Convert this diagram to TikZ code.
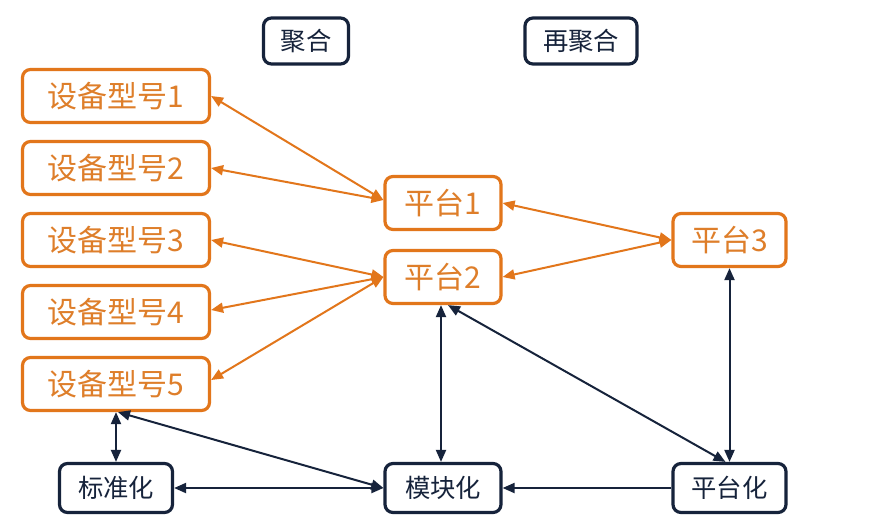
\documentclass[tikz,border=0pt]{standalone}
\usepackage{fontspec}
\setmainfont{Noto Sans CJK SC}
\usetikzlibrary{arrows.meta}
\definecolor{org}{HTML}{E2761B}
\definecolor{orgtxt}{HTML}{DE7E2A}
\definecolor{navy}{HTML}{16233B}
\tikzset{
  obox/.style={draw=org, line width=2.4pt, rounded corners=6pt, fill=white,
    text=orgtxt, font=\fontsize{22.5}{24}\selectfont, inner sep=0pt,
    minimum height=39.75pt},
  nbox/.style={draw=navy, line width=2.4pt, rounded corners=6pt, fill=white,
    text=navy, font=\fontsize{19}{22}\selectfont, inner sep=0pt},
  oarr/.style={draw=org, line width=1.5pt, {Triangle[length=9pt,width=7.5pt]}-{Triangle[length=9pt,width=7.5pt]}},
  narr/.style={draw=navy, line width=1.5pt, {Triangle[length=9pt,width=7.5pt]}-{Triangle[length=9pt,width=7.5pt]}},
  narrone/.style={draw=navy, line width=1.5pt, -{Triangle[length=9pt,width=7.5pt]}}
}
\begin{document}
\begin{tikzpicture}[x=0.75pt,y=-0.75pt]
\useasboundingbox[fill=white] (0,0) rectangle (880,526);
% header
\node[nbox, minimum width=63.75pt, minimum height=34.5pt] (jh) at (306,41) {聚合};
\node[nbox, minimum width=84pt, minimum height=34.5pt] (zjh) at (581,41) {再聚合};
% devices
\node[obox, minimum width=140.25pt] (d1) at (116,96) {设备型号1};
\node[obox, minimum width=140.25pt] (d2) at (116,168) {设备型号2};
\node[obox, minimum width=140.25pt] (d3) at (116,240) {设备型号3};
\node[obox, minimum width=140.25pt] (d4) at (116,312) {设备型号4};
\node[obox, minimum width=140.25pt] (d5) at (116,384) {设备型号5};
% platforms
\node[obox, minimum width=87pt] (p1) at (443,203) {平台1};
\node[obox, minimum width=87pt] (p2) at (443,277) {平台2};
\node[obox, minimum width=84.75pt] (p3) at (729.5,240) {平台3};
% bottom
\node[nbox, minimum width=84.75pt, minimum height=36.75pt] (bz) at (116,488) {标准化};
\node[nbox, minimum width=87pt, minimum height=36.75pt] (mk) at (443,488) {模块化};
\node[nbox, minimum width=84.75pt, minimum height=36.75pt] (pt) at (729.5,488) {平台化};
% orange connectors
\draw[oarr] (d1.east) -- ([yshift=2.25pt]p1.west);
\draw[oarr] (d2.east) -- ([yshift=2.25pt]p1.west);
\draw[oarr] (d3.east) -- (p2.west);
\draw[oarr] ([yshift=1.5pt]d4.east) -- (p2.west);
\draw[oarr] ([yshift=3pt]d5.east) -- (p2.west);
\draw[oarr] (p1.east) -- (p3.west);
\draw[oarr] (p2.east) -- (p3.west);
% navy connectors
\draw[narr] ([xshift=-1.5pt]p2.south) -- ([xshift=-1.5pt]mk.north);
\draw[narr] ([xshift=3.75pt]p2.south) -- ([xshift=-3pt]pt.north);
\draw[narr] (p3.south) -- (pt.north);
\draw[narr] (d5.south) -- (bz.north);
\draw[narr] ([xshift=1.5pt]d5.south) -- (mk.west);
\draw[narr] (bz.east) -- (mk.west);
\draw[narrone] (pt.west) -- (mk.east);
\end{tikzpicture}
\end{document}
